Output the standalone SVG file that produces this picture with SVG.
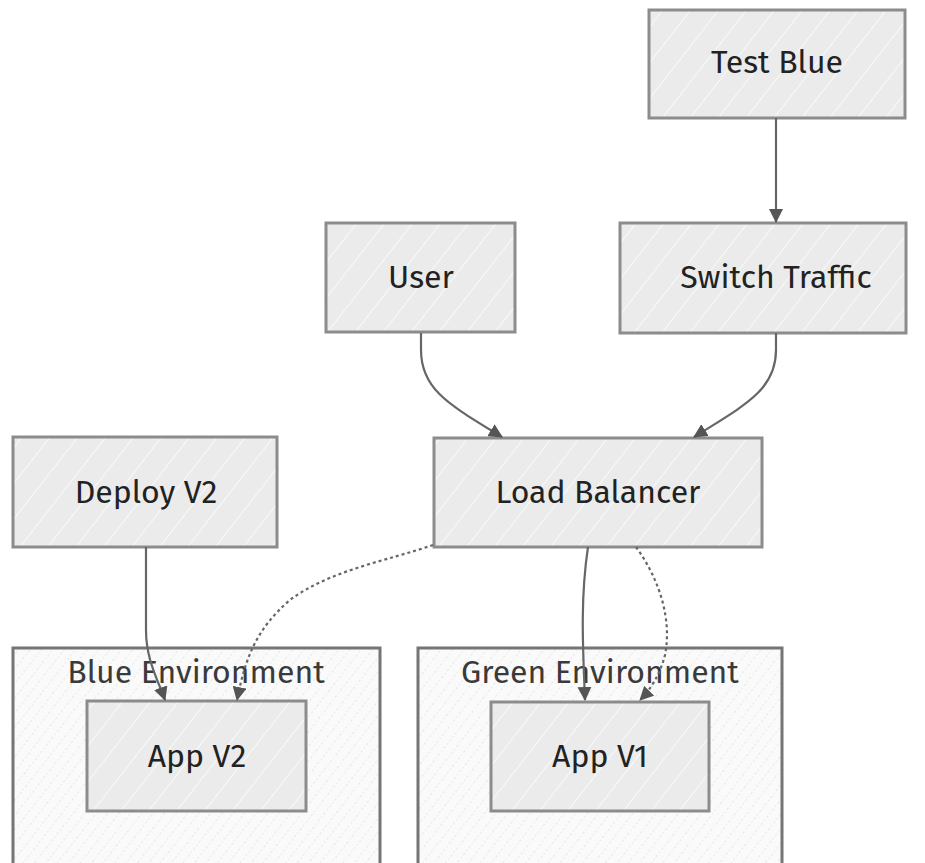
<svg xmlns="http://www.w3.org/2000/svg" width="925" height="863" viewBox="0 0 925 863">
  <defs>
    <!-- diagonal sketch hatch for ordinary nodes -->
    <pattern id="nodeHatch" patternUnits="userSpaceOnUse" width="22" height="22" patternTransform="rotate(38)">
      <rect width="22" height="22" fill="#ebebeb"/>
      <line x1="0" y1="0" x2="0" y2="22" stroke="#ffffff" stroke-width="1.6" opacity="0.9"/>
    </pattern>
    <!-- dotted hatch for environment clusters -->
    <pattern id="clusterHatch" patternUnits="userSpaceOnUse" width="9" height="9" patternTransform="rotate(38)">
      <rect width="9" height="9" fill="#fafafa"/>
      <line x1="0" y1="0" x2="0" y2="9" stroke="#d2d2d2" stroke-width="1" stroke-dasharray="1.5 2.5"/>
    </pattern>
    <marker id="arrow" viewBox="0 0 14 14" refX="13" refY="7" markerWidth="14" markerHeight="14" markerUnits="userSpaceOnUse" orient="auto">
      <path d="M0,0 L14,7 L0,14 Z" fill="#555555"/>
    </marker>
  </defs>
  <style>
    .node rect { fill: url(#nodeHatch); stroke: #8c8c8c; stroke-width: 3; }
    .cluster rect { fill: url(#clusterHatch); stroke: #757575; stroke-width: 3; }
    .label { font-family: "Fira Sans", "Noto Sans", "Open Sans", sans-serif; font-size: 32px; fill: #222222; text-anchor: middle; dominant-baseline: central; }
    .clabel { font-family: "Fira Sans", "Noto Sans", "Open Sans", sans-serif; font-size: 32px; fill: #3a3a3a; text-anchor: middle; dominant-baseline: central; }
    .edge { fill: none; stroke: #666666; stroke-width: 2.2; marker-end: url(#arrow); }
    .dotted { stroke-dasharray: 3 3; }
  </style>

  <g id="blue-environment" class="cluster">
    <rect x="13" y="648" width="367" height="222"/>
    <text class="clabel" x="196" y="672">Blue Environment</text>
  </g>
  <g id="green-environment" class="cluster">
    <rect x="418" y="648" width="364" height="222"/>
    <text class="clabel" x="600" y="672">Green Environment</text>
  </g>

  <g id="test-blue" class="node">
    <rect x="649" y="10" width="256" height="108"/>
    <text class="label" x="777" y="62">Test Blue</text>
  </g>
  <g id="switch-traffic" class="node">
    <rect x="620" y="223" width="286" height="110"/>
    <text class="label" x="776" y="277">Switch Traffic</text>
  </g>
  <g id="user" class="node">
    <rect x="326" y="223" width="189" height="109"/>
    <text class="label" x="421" y="277">User</text>
  </g>
  <g id="load-balancer" class="node">
    <rect x="434" y="438" width="328" height="109"/>
    <text class="label" x="598" y="492">Load Balancer</text>
  </g>
  <g id="deploy-v2" class="node">
    <rect x="13" y="437" width="264" height="110"/>
    <text class="label" x="146" y="492">Deploy V2</text>
  </g>
  <g id="app-v2" class="node">
    <rect x="87" y="701" width="219" height="110"/>
    <text class="label" x="197" y="756">App V2</text>
  </g>
  <g id="app-v1" class="node">
    <rect x="491" y="702" width="218" height="109"/>
    <text class="label" x="600" y="756">App V1</text>
  </g>

  <g id="connectors">
    <path class="edge" d="M776,118 L776,222"/>
    <path class="edge" d="M421,333 L421,350 C421,390 450,405 502,437"/>
    <path class="edge" d="M776,333 L776,350 C776,390 745,405 694,437"/>
    <path class="edge" d="M146,547 L146,630 C146,660 158,680 165,700"/>
    <path class="edge dotted" d="M433,545 C390,560 330,570 290,600 C255,630 245,660 237,700"/>
    <path class="edge" d="M588,547 C580,600 583,650 585,700"/>
    <path class="edge dotted" d="M636,547 C660,580 672,620 665,655 C660,675 650,690 640,700"/>
  </g>
</svg>
